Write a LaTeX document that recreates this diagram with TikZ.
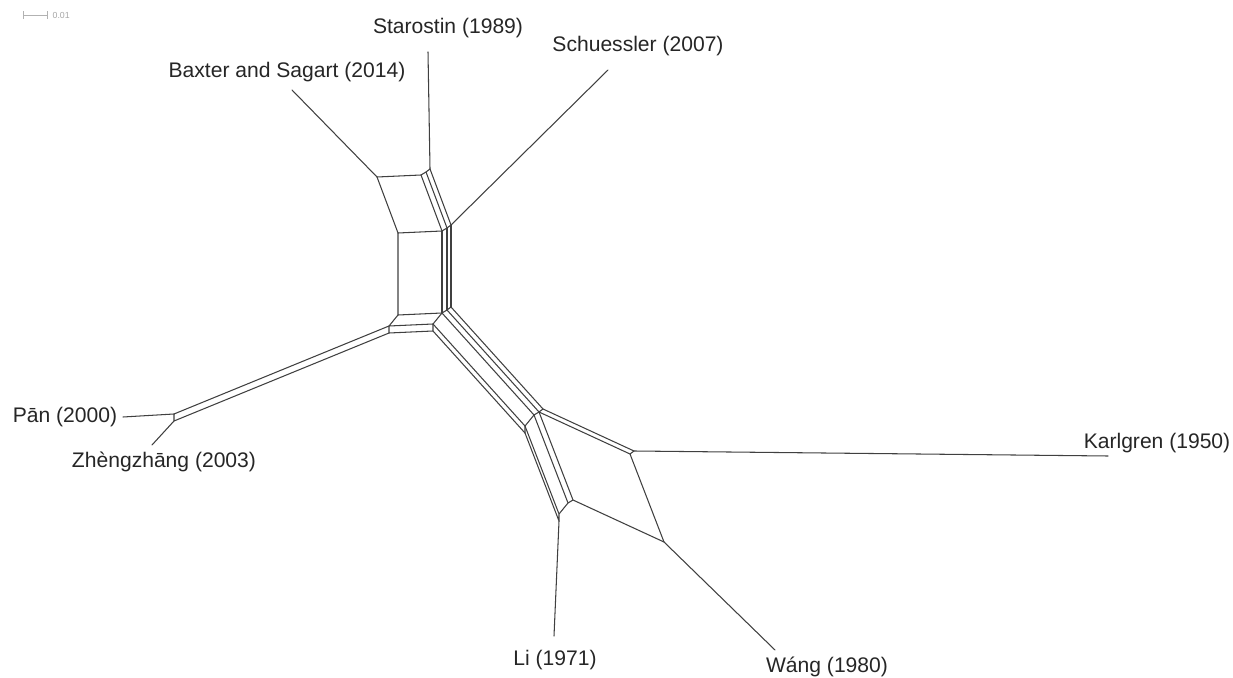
\documentclass[tikz,border=0pt]{standalone}
\usepackage{fontspec}
\setsansfont{Liberation Sans}
\usetikzlibrary{positioning}
\tikzset{
 netedge/.style={draw=black!75,line width=0.6pt,line join=round,line cap=round},
 taxon/.style={font=\sffamily\fontsize{12}{14}\selectfont,text=black!85,inner sep=0pt},
 scalebar/.style={draw=black!30,line width=0.5pt}
}

\begin{document}
\begin{tikzpicture}[x=0.02cm,y=-0.02cm]
\useasboundingbox (0,0) rectangle (1233,678);
\coordinate (vB) at (377,177);
\coordinate (vX1) at (421,175);
\coordinate (vX1s2) at (426,172);
\coordinate (vS) at (430,169);
\coordinate (vX2) at (398,233);
\coordinate (vX12) at (442,231);
\coordinate (vX12s2) at (447,228);
\coordinate (vSc) at (451,225);
\coordinate (vX23) at (398,315);
\coordinate (t3) at (442,313);
\coordinate (t4) at (447,310);
\coordinate (t5) at (451,307);
\coordinate (vX23s3) at (389,326);
\coordinate (vX23s34) at (389,333);
\coordinate (t2) at (433,324);
\coordinate (t1) at (433,331);
\coordinate (vP) at (174,414);
\coordinate (vZ) at (174,421);
\coordinate (e1) at (525,433);
\coordinate (e2) at (525,426);
\coordinate (e3) at (534,415);
\coordinate (e4) at (539,412);
\coordinate (e5) at (543,409);
\coordinate (vL) at (559,521);
\coordinate (f2) at (559,514);
\coordinate (f3) at (568,503);
\coordinate (f4) at (573,500);
\coordinate (g4) at (630,454);
\coordinate (vK) at (634,451);
\coordinate (vW) at (664,542);
\coordinate (pB) at (292,90);
\coordinate (pS) at (428,52);
\coordinate (pSc) at (608,70);
\coordinate (pK) at (1108,456);
\coordinate (pW) at (775,650);
\coordinate (pL) at (554,636);
\coordinate (pZ) at (152,445);
\coordinate (pP) at (123,417);
\draw[netedge] (vB)--(vX1)--(vX1s2)--(vS);
\draw[netedge] (vB)--(vX2)--(vX12)--(vX12s2)--(vSc);
\draw[netedge] (vX1)--(vX12) (vX1s2)--(vX12s2) (vS)--(vSc);
\draw[netedge] (vX2)--(vX23)--(t3)--(t4)--(t5);
\draw[netedge] (vX12)--(t3) (vX12s2)--(t4) (vSc)--(t5);
\draw[netedge] (vX23)--(vX23s3)--(vX23s34)--(t1)--(t2)--(t3) (vX23s3)--(t2);
\draw[netedge] (vX23s3)--(vP)--(vZ)--(vX23s34);
\draw[netedge] (t1)--(e1) (t2)--(e2) (t3)--(e3) (t4)--(e4) (t5)--(e5);
\draw[netedge] (e1)--(e2)--(e3)--(e4)--(e5);
\draw[netedge] (e1)--(vL)--(f2)--(f3)--(f4)--(vW) (e2)--(f2) (e3)--(f3) (e4)--(f4);
\draw[netedge] (e4)--(g4)--(vW) (e5)--(vK)--(g4);
\draw[netedge] (vB)--(pB) (vS)--(pS) (vSc)--(pSc) (vK)--(pK);
\draw[netedge] (vW)--(pW) (vL)--(pL) (vZ)--(pZ) (vP)--(pP);
\node[taxon] (starostin) at (448,28) {Starostin (1989)};
\node[taxon] (baxter) at (287,72) {Baxter and Sagart (2014)};
\node[taxon] (schuessler) at (638,46) {Schuessler (2007)};
\node[taxon] (pan) at (65,417) {Pān (2000)};
\node[taxon] (zheng) at (164,462) {Zhèngzhāng (2003)};
\node[taxon] (karlgren) at (1157,443) {Karlgren (1950)};
\node[taxon] (li) at (555,660) {Li (1971)};
\node[taxon] (wang) at (827,667) {Wáng (1980)};
\coordinate (barL) at (23,15);
\coordinate (barR) at (47,15);
\draw[scalebar] (barL)--(barR) ([yshift=-2pt]barL)--([yshift=2pt]barL) ([yshift=-2pt]barR)--([yshift=2pt]barR);
\node[font=\sffamily\fontsize{5}{6}\selectfont,text=black!35,right=3pt of barR,inner sep=0pt] (barlabel) {0.01};
\end{tikzpicture}
\end{document}
